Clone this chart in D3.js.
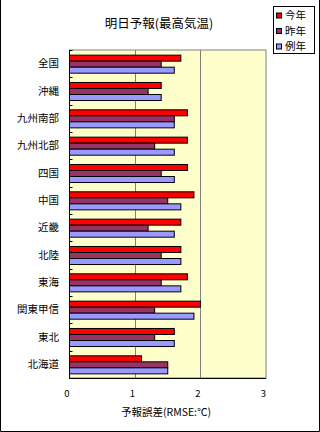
<!DOCTYPE html>
<html><head><meta charset="utf-8">
<script src="https://cdn.jsdelivr.net/npm/d3@7"></script>
<style>
html,body{margin:0;padding:0;background:#fff;}
svg{display:block;}
text{font-family:"Noto Sans CJK JP","Noto Sans",sans-serif;fill:#000;}
</style></head>
<body>
<script>
const categories = ["全国","沖縄","九州南部","九州北部","四国","中国","近畿","北陸","東海","関東甲信","東北","北海道"];
const seriesNames = ["今年","昨年","例年"];
const seriesColors = ["#FF0000","#993366","#9999FF"];
const thisYear = [1.7,1.4,1.8,1.8,1.8,1.9,1.7,1.7,1.8,2.0,1.6,1.1];
const lastYear = [1.4,1.2,1.6,1.3,1.4,1.5,1.2,1.4,1.4,1.3,1.3,1.5];
const normalYear = [1.6,1.4,1.6,1.6,1.6,1.7,1.6,1.7,1.7,1.9,1.6,1.5];
const xTicks = [0,1,2,3];
const titleText = "明日予報(最高気温)";
const xTitle = "予報誤差(RMSE:℃)";

const W = 320, H = 432;
const svg = d3.select("body").append("svg").attr("width", W).attr("height", H);

// outer frame
svg.append("path").attr("d", `M0.5,0 V431.5 H319.5 V0`).attr("fill","none").attr("stroke","#000").attr("stroke-width",1);

const plot = {left: 69.5, right: 266, top: 50, bottom: 378};
const x = d3.scaleLinear().domain([0,3]).range([plot.left, plot.right]);
const y0 = d3.scaleBand().domain(categories).range([plot.top, plot.bottom]).paddingInner(0.34).paddingOuter(0.17);
const y1 = d3.scaleBand().domain(seriesNames).range([0, y0.bandwidth()]);

// plot background
svg.append("rect").attr("x", plot.left).attr("y", plot.top).attr("width", plot.right-plot.left).attr("height", plot.bottom-plot.top)
  .attr("fill","#FFFFCC").attr("stroke","#808080").attr("stroke-width",1);

// gridlines
svg.append("g").selectAll("line").data(xTicks.filter(t=>t>0 && t<3)).join("line")
  .attr("x1", d=>Math.round(x(d))+0.5).attr("x2", d=>Math.round(x(d))+0.5)
  .attr("y1", plot.top).attr("y2", plot.bottom).attr("stroke","#808080").attr("stroke-width",1);

// bars
const data = categories.map((c,i)=>({cat:c, vals:[thisYear[i], lastYear[i], normalYear[i]]}));
const groups = svg.append("g").selectAll("g").data(data).join("g")
  .attr("transform", d=>`translate(0,${y0(d.cat)})`);
groups.selectAll("rect").data(d=>d.vals.map((v,j)=>({v, s:seriesNames[j], j}))).join("rect")
  .attr("x", x(0)).attr("y", d=>y1(d.s)+0.5)
  .attr("width", d=>x(d.v)-x(0)).attr("height", y1.bandwidth())
  .attr("fill", d=>seriesColors[d.j]).attr("stroke","#000").attr("stroke-width",1);

// axes lines
svg.append("line").attr("x1", plot.left).attr("x2", plot.left).attr("y1", plot.top).attr("y2", plot.bottom+0.5).attr("stroke","#000");
svg.append("line").attr("x1", plot.left).attr("x2", plot.right).attr("y1", plot.bottom+0.5).attr("y2", plot.bottom+0.5).attr("stroke","#000");

// y ticks at category boundaries
const step = y0.step();
svg.append("g").selectAll("line").data(d3.range(categories.length+1)).join("line")
  .attr("x1", plot.left).attr("x2", plot.left+3)
  .attr("y1", d=>Math.round(plot.top + d*step)+0.5).attr("y2", d=>Math.round(plot.top + d*step)+0.5)
  .attr("stroke","#000");

// y labels
svg.append("g").selectAll("text").data(categories).join("text")
  .attr("x", 59).attr("y", d=>y0(d)+y0.bandwidth()/2).attr("dy","0.36em")
  .attr("text-anchor","end").attr("font-size","10.5px").text(d=>d);

// x tick labels
svg.append("g").selectAll("text").data(xTicks).join("text")
  .attr("x", d=>x(d)-2.5).attr("y", 397).attr("text-anchor","middle").attr("font-size","9.5px").text(d=>d);

// x title
svg.append("text").attr("x", 166).attr("y", 416).attr("text-anchor","middle").attr("font-size","10.5px").text(xTitle);

// title
svg.append("text").attr("x", 159).attr("y", 27.5).attr("text-anchor","middle").attr("font-size","12.5px").text(titleText);

// legend
const lg = svg.append("g");
lg.append("rect").attr("x", 273.5).attr("y", 6.5).attr("width", 41).attr("height", 47).attr("fill","#fff").attr("stroke","#000");
const ly = [15.5, 31, 46.5];
seriesNames.forEach((s,i)=>{
  lg.append("rect").attr("x", 276.5).attr("y", ly[i]-2.5).attr("width",5).attr("height",5).attr("fill",seriesColors[i]).attr("stroke","#000");
  lg.append("text").attr("x", 285).attr("y", ly[i]).attr("dy","0.36em").attr("font-size","10.5px").text(s);
});
</script>
</body></html>
